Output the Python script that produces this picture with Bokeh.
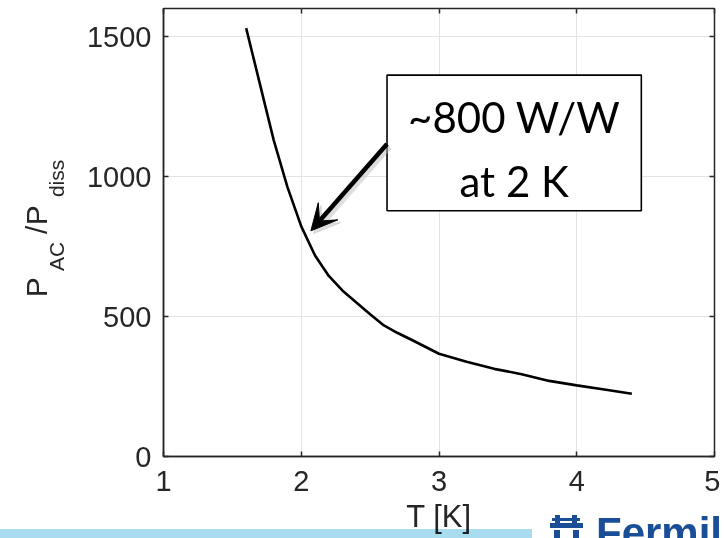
import math
from bokeh.plotting import figure
from bokeh.models import (Range1d, LinearAxis, FixedTicker, Label, BoxAnnotation,
                          Arrow, VeeHead, Div)
from bokeh.layouts import column
from bokeh.embed import file_html
from bokeh.resources import INLINE

# ---- data ----
T = [1.6, 1.7, 1.8, 1.9, 2.0, 2.1, 2.2, 2.3, 2.4, 2.5, 2.6, 2.7, 2.8, 2.9,
     3.0, 3.2, 3.4, 3.6, 3.8, 4.0, 4.2, 4.4]
P = [1530, 1330, 1130, 962, 822, 718, 645, 592, 550, 508, 468, 441, 417, 392,
     367, 338, 313, 294, 270, 254, 239, 224]
x_ticks = [1, 2, 3, 4, 5]
y_ticks = [0, 500, 1000, 1500]
note_lines = ["~800 W/W", "at 2 K"]
note_point = (2.07, 806)

AXC = "#262626"
FONT = "Liberation Sans"

p = figure(frame_width=551, frame_height=448,
           x_range=Range1d(1, 5), y_range=Range1d(0, 1600),
           output_backend="svg", toolbar_location=None,
           min_border_left=160, min_border_right=6, min_border_top=8,
           min_border_bottom=82,
           background_fill_color="white", border_fill_color="white",
           outline_line_color=AXC, outline_line_width=1.5)

for ax, ticks in ((p.xaxis[0], x_ticks), (p.yaxis[0], y_ticks)):
    ax.ticker = FixedTicker(ticks=ticks)
    ax.major_tick_in = 5
    ax.major_tick_out = 0
    ax.minor_tick_line_color = None
    ax.axis_line_color = AXC
    ax.axis_line_width = 1.5
    ax.major_tick_line_color = AXC
    ax.major_tick_line_width = 1.5
    ax.major_label_text_font = FONT
    ax.major_label_text_font_size = "29px"
    ax.major_label_text_color = AXC
p.xaxis.major_label_standoff = 14
p.yaxis.major_label_standoff = 12
p.xaxis.axis_label = "T [K]"
p.xaxis.axis_label_text_font = FONT
p.xaxis.axis_label_text_font_size = "31px"
p.xaxis.axis_label_text_font_style = "normal"
p.xaxis.axis_label_text_color = AXC
p.xaxis.axis_label_standoff = 5

for loc, ticks in (("right", y_ticks), ("above", x_ticks)):
    ax = LinearAxis(ticker=FixedTicker(ticks=ticks), major_tick_in=5, major_tick_out=0,
                    minor_tick_line_color=None, axis_line_color=None,
                    major_tick_line_color=AXC, major_tick_line_width=1.5,
                    major_label_text_font_size="0px", major_label_standoff=0)
    p.add_layout(ax, loc)

p.xgrid.ticker = FixedTicker(ticks=x_ticks)
p.ygrid.ticker = FixedTicker(ticks=y_ticks)
p.grid.grid_line_color = "#e3e3e3"
p.grid.grid_line_width = 1

p.line(T, P, line_color="black", line_width=2.6)

# helpers converting reference pixel positions to data units (for annotations)
def dx(px):
    return 1 + (px - 160.7) / 137.8

def dy(py):
    return (455.7 - py) / 0.28

# y-axis label  P_AC / P_diss  built from two label-only axes (main + subscript size)
main_pieces = {round(dy(276.5)): "P", round(dy(225)): "/", round(dy(204.5)): "P"}
sub_pieces = {round(dy(241)): "AC", round(dy(159)): "diss"}
for pieces, fs, standoff in ((main_pieces, "30px", 47), (sub_pieces, "21px", -56)):
    ax = LinearAxis(ticker=FixedTicker(ticks=sorted(pieces)),
                    major_label_overrides=pieces,
                    major_label_orientation=math.pi / 2,
                    major_tick_in=0, major_tick_out=0, minor_tick_line_color=None,
                    axis_line_color=None, major_tick_line_color=None,
                    major_label_text_font=FONT, major_label_text_font_size=fs,
                    major_label_text_color=AXC, major_label_standoff=standoff)
    p.add_layout(ax, "left")

# annotation box
p.add_layout(BoxAnnotation(left=dx(384.3), right=dx(638.7), top=dy(74.3), bottom=dy(210),
                           fill_color="white", fill_alpha=1, line_color="black",
                           line_alpha=1, line_width=1.6))
p.add_layout(Label(x=dx(511.5), y=dy(116), text=note_lines[0], text_align="center",
                   text_baseline="middle", text_font="Lato",
                   text_font_size="42px", text_color="black"))
p.add_layout(Label(x=dx(511.5), y=dy(180), text=note_lines[1], text_align="center",
                   text_baseline="middle", text_font="Lato",
                   text_font_size="42px", text_color="black"))

# arrow shadow + arrow
p.add_layout(Arrow(x_start=dx(387), y_start=dy(146), x_end=note_point[0] + 0.02,
                   y_end=note_point[1] - 10,
                   line_color="#bbbbbb", line_alpha=0.5, line_width=5,
                   end=VeeHead(size=26, fill_color="#bbbbbb", fill_alpha=0.5,
                               line_color="#bbbbbb", line_alpha=0.5)))
p.add_layout(Arrow(x_start=dx(384.3), y_start=dy(143.3), x_end=note_point[0],
                   y_end=note_point[1],
                   line_color="black", line_width=4.5,
                   end=VeeHead(size=26, fill_color="black", line_color="black",
                               line_width=1)))

# slide footer overlay: light blue band and the (cut off) Fermilab logo
BLUE = "#1a4f98"
def box(l, t, w, h, c):
    return (f'<div style="position:absolute;left:{l}px;top:{t}px;width:{w}px;'
            f'height:{h}px;background:{c};"></div>')

footer_html = (
    '<div style="position:relative;left:-5px;width:722px;height:23px;overflow:hidden;'
    'pointer-events:none;">'
    + box(0, 14, 532, 9, "#a9dcee")
    + box(552, 3, 28, 3, BLUE)
    + box(555, 0, 5, 10, BLUE) + box(572, 0, 5, 10, BLUE)
    + box(550, 8, 33, 5, BLUE)
    + box(554, 15, 6, 8, BLUE) + box(573, 15, 6, 8, BLUE)
    + f'<div style="position:absolute;left:596px;top:-3px;font-family:\'{FONT}\';'
      f'font-weight:bold;font-size:42px;line-height:1;color:{BLUE};'
      'white-space:nowrap;">Fermilab</div>'
    + '</div>'
)
footer = Div(text=footer_html, width=717, height=23,
             styles={"margin-top": "-23px", "position": "relative", "z-index": "5",
                     "mix-blend-mode": "multiply"})

open("out.html", "w").write(file_html(column(p, footer, spacing=0), INLINE))
